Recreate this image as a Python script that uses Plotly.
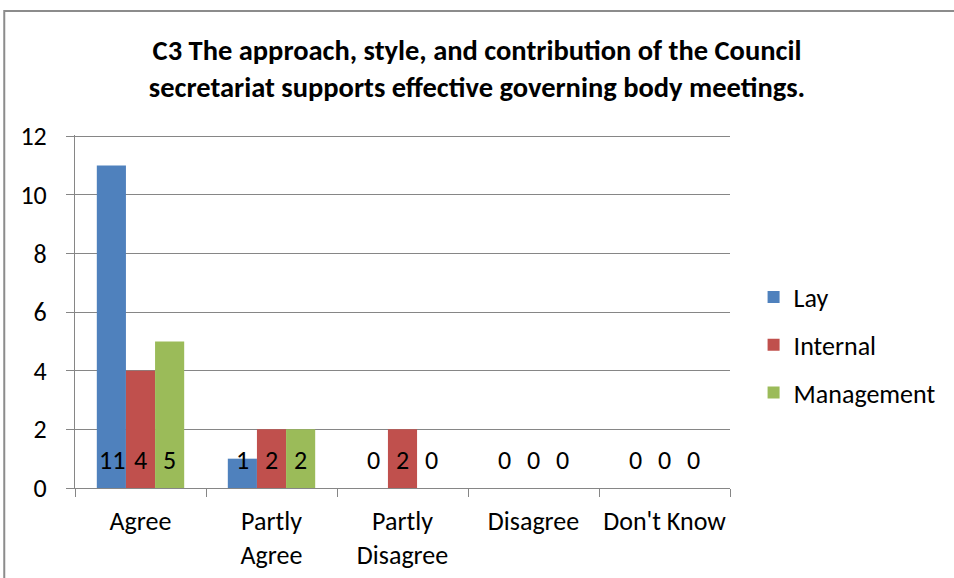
import plotly.graph_objects as go

categorias = ["Agree", "Partly<br>Agree", "Partly<br>Disagree", "Disagree", "Don't Know"]
lay = [11, 1, 0, 0, 0]
internal = [4, 2, 2, 0, 0]
management = [5, 2, 0, 0, 0]

series = [("Lay", lay, "#4F81BD"),
          ("Internal", internal, "#C0504D"),
          ("Management", management, "#9BBB59")]

FUENTE = "Carlito, Lato, Liberation Sans, sans-serif"

fig = go.Figure()
for i, (nombre, valores, color) in enumerate(series):
    fig.add_trace(go.Bar(x=categorias, y=valores, name=nombre, marker_color=color,
                         marker_line_width=0, legendgroup=nombre))

# etiquetas de datos pegadas a la base de cada barra (incluye los ceros)
desplazamientos = [-29, 0, 29]
for (nombre, valores, color), dx in zip(series, desplazamientos):
    for cat, v in zip(categorias, valores):
        fig.add_annotation(x=cat, y=0.95, xref="x", yref="y", text=str(v),
                           showarrow=False, xshift=dx,
                           font=dict(size=26, color="#000000", family=FUENTE))

# borde del área del gráfico
fig.add_shape(type="rect", xref="paper", yref="paper",
              x0=-0.108, x1=1.5, y0=-0.5, y1=1.351,
              line=dict(color="#8C8C8C", width=2), layer="below")

fig.update_layout(
    width=954, height=578,
    margin=dict(l=75, r=224, t=135, b=90),
    paper_bgcolor="white", plot_bgcolor="white",
    barmode="group", bargap=0.333, bargroupgap=0,
    font=dict(family=FUENTE, size=26, color="#000000"),
    title=dict(text="<b>C3 The approach, style, and contribution of the Council<br>"
                    "secretariat supports effective governing body meetings.</b>",
               x=0.5, xanchor="center", y=0.897, yanchor="middle",
               font=dict(size=28.5, family=FUENTE, color="#000000")),
    legend=dict(x=1.036, y=0.405, xanchor="left", yanchor="middle",
                font=dict(size=26, family=FUENTE), tracegroupgap=11,
                bgcolor="rgba(0,0,0,0)"),
    showlegend=True,
)

fig.update_yaxes(range=[0, 12.04], tickvals=[0, 2, 4, 6, 8, 10, 12],
                 showgrid=True, gridcolor="#868686", gridwidth=1,
                 showline=True, linecolor="#868686", linewidth=1,
                 ticks="outside", ticklen=8, tickcolor="#868686", ticklabelstandoff=14,
                 tickfont=dict(size=26), zeroline=False, automargin=False)
fig.update_xaxes(showline=True, linecolor="#868686", linewidth=1,
                 ticks="outside", ticklen=8, tickcolor="#868686", tickson="boundaries",
                 ticklabelstandoff=10,
                 tickfont=dict(size=26), tickangle=0, automargin=False)

# sin margen del body para que la figura empiece en (0, 0)
fig.write_html("out.html", config={"displayModeBar": False},
               post_script="document.body.style.margin='0';")
